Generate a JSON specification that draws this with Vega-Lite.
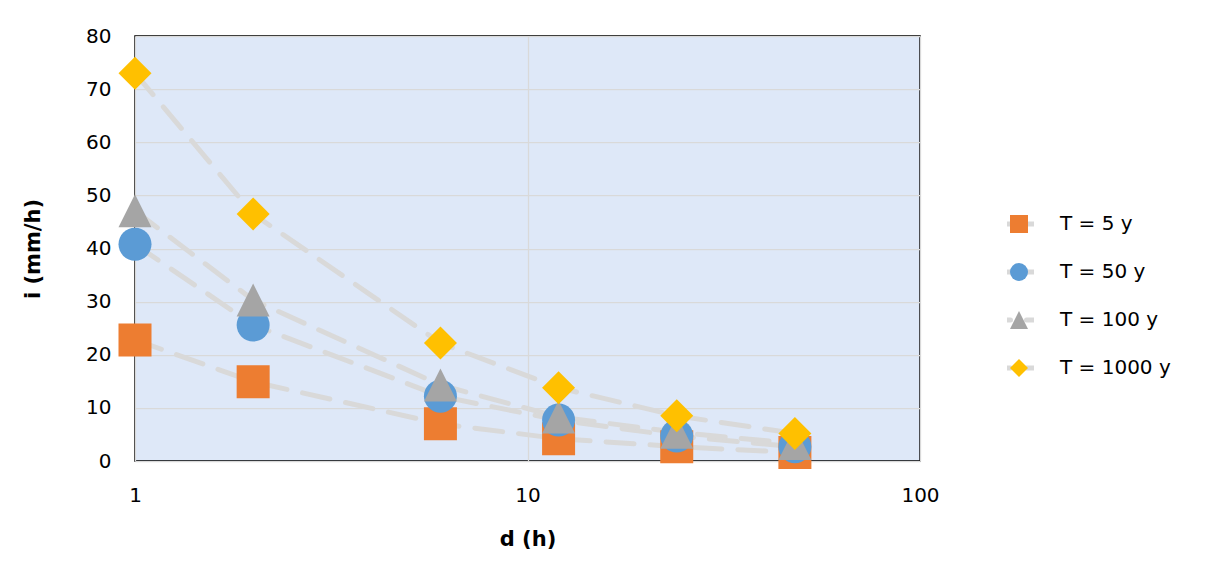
{
  "$schema": "https://vega.github.io/schema/vega-lite/v6.json",
  "width": 785,
  "height": 425,
  "autosize": {"type": "none"},
  "padding": {"left": 135, "top": 36, "right": 285, "bottom": 118},
  "background": "#FFFFFF",
  "config": {
    "font": "DejaVu Sans",
    "view": {"fill": "#DEE8F8", "stroke": "#000000", "strokeWidth": 1.5},
    "axis": {
      "labelFont": "DejaVu Sans",
      "labelFontSize": 20,
      "labelColor": "#000000",
      "titleFont": "DejaVu Sans",
      "titleFontSize": 21,
      "titleFontWeight": "bold",
      "titleColor": "#000000",
      "gridColor": "#D9D9D9",
      "gridWidth": 1.25,
      "ticks": false,
      "domain": false,
      "labelFlush": false
    },
    "legend": {"labelFont": "DejaVu Sans", "labelColor": "#000000"}
  },
  "data": {
    "values": [
      {"d": 1, "i": 22.8, "T": "T = 5 y"},
      {"d": 2, "i": 14.9, "T": "T = 5 y"},
      {"d": 6, "i": 7.0, "T": "T = 5 y"},
      {"d": 12, "i": 4.2, "T": "T = 5 y"},
      {"d": 24, "i": 2.7, "T": "T = 5 y"},
      {"d": 48, "i": 1.6, "T": "T = 5 y"},
      {"d": 1, "i": 40.8, "T": "T = 50 y"},
      {"d": 2, "i": 25.6, "T": "T = 50 y"},
      {"d": 6, "i": 12.2, "T": "T = 50 y"},
      {"d": 12, "i": 7.7, "T": "T = 50 y"},
      {"d": 24, "i": 4.7, "T": "T = 50 y"},
      {"d": 48, "i": 2.7, "T": "T = 50 y"},
      {"d": 1, "i": 47.1, "T": "T = 100 y"},
      {"d": 2, "i": 30.3, "T": "T = 100 y"},
      {"d": 6, "i": 14.3, "T": "T = 100 y"},
      {"d": 12, "i": 8.3, "T": "T = 100 y"},
      {"d": 24, "i": 5.4, "T": "T = 100 y"},
      {"d": 48, "i": 3.3, "T": "T = 100 y"},
      {"d": 1, "i": 73.0, "T": "T = 1000 y"},
      {"d": 2, "i": 46.5, "T": "T = 1000 y"},
      {"d": 6, "i": 22.2, "T": "T = 1000 y"},
      {"d": 12, "i": 13.8, "T": "T = 1000 y"},
      {"d": 24, "i": 8.5, "T": "T = 1000 y"},
      {"d": 48, "i": 5.2, "T": "T = 1000 y"}
    ]
  },
  "encoding": {
    "x": {
      "field": "d",
      "type": "quantitative",
      "scale": {"type": "log", "domain": [1, 100], "nice": false},
      "axis": {"values": [1, 10, 100], "grid": true, "labelPadding": 24, "labelFlush": false, "title": "d (h)", "titlePadding": 23, "format": "d"}
    },
    "y": {
      "field": "i",
      "type": "quantitative",
      "scale": {"domain": [0, 80], "nice": false, "zero": true},
      "axis": {"values": [0, 10, 20, 30, 40, 50, 60, 70, 80], "grid": true, "labelPadding": 24, "title": "i (mm/h)", "titlePadding": 42}
    }
  },
  "layer": [
    {
      "mark": {"type": "line", "strokeWidth": 5, "strokeCap": "round", "color": "#D9D9D9", "interpolate": "linear"},
      "encoding": {
        "strokeDash": {
          "field": "T",
          "type": "nominal",
          "scale": {"range": [[28, 16], [28, 16], [28, 16], [28, 16]]},
          "legend": {
            "title": null,
            "orient": "none",
            "legendX": 872,
            "legendY": 176,
            "symbolType": "M-4,0L4,0",
            "symbolSize": 324,
            "symbolStrokeColor": "#D9D9D9",
            "symbolStrokeWidth": 5,
            "symbolFillColor": "transparent",
            "labelExpr": "''",
            "labelFontSize": 20,
            "clipHeight": 24,
            "rowPadding": 24,
            "padding": 0,
            "zindex": 1,
            "encode": {"symbols": {"update": {"shape": {"value": "M-4,0L4,0"}, "size": {"value": 324}, "strokeDash": {"value": [26, 32]}, "strokeCap": {"value": "round"}, "stroke": {"value": "#D9D9D9"}, "strokeWidth": {"value": 5}}}}
          }
        }
      }
    },
    {
      "mark": {"type": "point", "filled": true, "opacity": 1, "size": 1089},
      "encoding": {
        "color": {
          "field": "T",
          "type": "nominal",
          "scale": {"domain": ["T = 5 y", "T = 50 y", "T = 100 y", "T = 1000 y"], "range": ["#ED7D31", "#5B9BD5", "#A5A5A5", "#FFC000"]},
          "legend": {
            "title": null,
            "orient": "none",
            "legendX": 874,
            "legendY": 176,
            "symbolSize": 324,
            "symbolOpacity": 1,
            "symbolStrokeWidth": 0,
            "labelFontSize": 20,
            "labelOffset": 31,
            "clipHeight": 24,
            "rowPadding": 24,
            "padding": 0,
            "zindex": 2
          }
        },
        "shape": {
          "field": "T",
          "type": "nominal",
          "scale": {"domain": ["T = 5 y", "T = 50 y", "T = 100 y", "T = 1000 y"], "range": ["square", "circle", "M0,-1L1,1L-1,1Z", "diamond"]}
        }
      }
    }
  ]
}
